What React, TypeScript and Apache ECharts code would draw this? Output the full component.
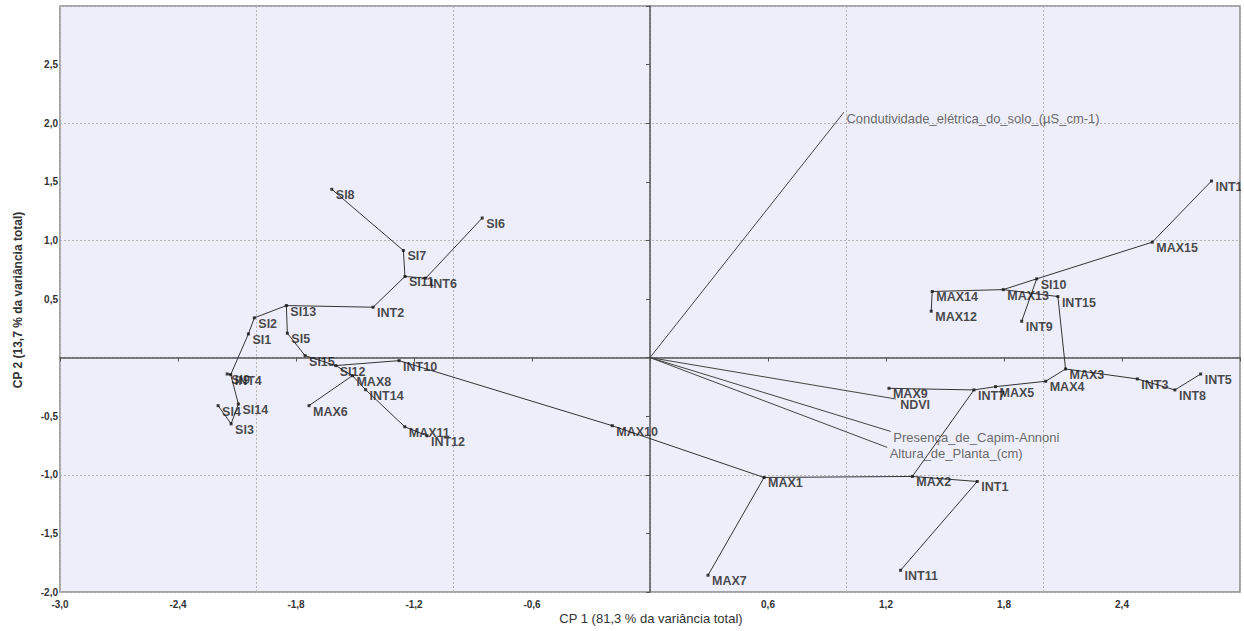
import React, { useEffect, useRef } from "react";
import * as echarts from "echarts";

// Scores of the observations on CP1 / CP2
const pointNames = [
  "SI1", "SI2", "SI3", "SI4", "SI5", "SI6", "SI7", "SI8", "SI9", "SI10", "SI11", "SI12", "SI13", "SI14", "SI15",
  "INT1", "INT2", "INT3", "INT4", "INT5", "INT6", "INT7", "INT8", "INT9", "INT10", "INT11", "INT12", "INT13", "INT14", "INT15",
  "MAX1", "MAX2", "MAX3", "MAX4", "MAX5", "MAX6", "MAX7", "MAX8", "MAX9", "MAX10", "MAX11", "MAX12", "MAX13", "MAX14", "MAX15",
];
const cp1 = [
  -2.042, -2.012, -2.13, -2.196, -1.844, -0.853, -1.254, -1.618, -2.15, 1.966, -1.246, -1.598, -1.849, -2.093, -1.754,
  1.664, -1.408, 2.478, -2.132, 2.8, -1.14, 1.647, 2.669, 1.89, -1.276, 1.274, -1.134, 2.855, -1.446, 2.074,
  0.58, 1.334, 2.113, 2.012, 1.757, -1.734, 0.295, -1.513, 1.215, -0.192, -1.247, 1.43, 1.796, 1.435, 2.554,
];
const cp2 = [
  0.202, 0.339, -0.565, -0.41, 0.208, 1.191, 0.914, 1.436, -0.14, 0.672, 0.692, -0.068, 0.444, -0.396, 0.017,
  -1.057, 0.43, -0.182, -0.145, -0.14, 0.678, -0.276, -0.276, 0.31, -0.026, -1.815, -0.667, 1.507, -0.274, 0.521,
  -1.023, -1.014, -0.097, -0.202, -0.248, -0.41, -1.857, -0.154, -0.262, -0.581, -0.59, 0.396, 0.58, 0.564, 0.985,
];

// Links drawn between observations
const edges: [string, string][] = [
  ["SI8", "SI7"], ["SI7", "SI11"], ["SI11", "INT6"], ["INT6", "SI6"], ["SI11", "INT2"], ["INT2", "SI13"],
  ["SI13", "SI2"], ["SI13", "SI5"], ["SI2", "SI1"], ["SI1", "INT4"], ["INT4", "SI9"], ["INT4", "SI14"],
  ["SI14", "SI3"], ["SI3", "SI4"], ["SI5", "SI15"], ["SI15", "SI12"], ["SI12", "INT10"], ["INT10", "MAX10"],
  ["SI12", "MAX8"], ["MAX6", "MAX8"], ["MAX8", "INT14"], ["INT14", "MAX11"], ["MAX11", "INT12"],
  ["MAX10", "MAX1"], ["MAX1", "MAX7"], ["MAX1", "MAX2"], ["MAX2", "INT1"], ["INT1", "INT11"], ["MAX2", "INT7"],
  ["INT7", "MAX9"], ["INT7", "MAX5"], ["MAX5", "MAX4"], ["MAX4", "MAX3"], ["MAX3", "INT3"], ["INT3", "INT8"],
  ["INT8", "INT5"], ["MAX3", "INT15"], ["INT15", "MAX13"], ["MAX13", "MAX14"], ["MAX14", "MAX12"],
  ["MAX13", "SI10"], ["SI10", "INT9"], ["SI10", "MAX15"], ["MAX15", "INT13"],
];

// Variable loadings (vectors from origin)
const vectorNames = [
  "Condutividade_elétrica_do_solo_(µS_cm-1)",
  "NDVI",
  "Presença_de_Capim-Annoni",
  "Altura_de_Planta_(cm)",
];
const vectorCp1 = [0.986, 1.249, 1.224, 1.206];
const vectorCp2 = [2.094, -0.353, -0.63, -0.766];

const xTitle = "CP 1 (81,3 % da variância total)";
const yTitle = "CP 2 (13,7 % da variância total)";

const fmt = (v: number, max: number) =>
  Math.abs(v) < 1e-9 || v > max - 0.01 ? "" : v.toFixed(1).replace(".", ",");

export default function App() {
  const ref = useRef<HTMLDivElement>(null);
  useEffect(() => {
    document.body.style.margin = "0";
    const chart = echarts.init(ref.current!, null, { renderer: "svg" });
    const idx = new Map(pointNames.map((n, i) => [n, i]));
    const edgeData = edges.map(([a, b]) => {
      const ia = idx.get(a)!;
      const ib = idx.get(b)!;
      return { coords: [[cp1[ia], cp2[ia]], [cp1[ib], cp2[ib]]] };
    });
    const vecLines = vectorNames.map((_, i) => ({ coords: [[0, 0], [vectorCp1[i], vectorCp2[i]]] }));
    const pointLabel = {
      show: true,
      formatter: "{b}",
      position: [5.5, 1],
      align: "left",
      verticalAlign: "top",
      fontFamily: "Liberation Sans, Arial, sans-serif",
      fontSize: 12.5,
      fontWeight: "bold",
      color: "#1a1a1a",
    };
    const option: any = {
      animation: false,
      backgroundColor: "#ffffff",
      grid: {
        left: 60,
        top: 6,
        right: 4,
        bottom: 39,
        show: true,
        backgroundColor: "#eeeefa",
        borderColor: "#8a8a8a",
        borderWidth: 1.5,
      },
      xAxis: [
        {
          type: "value",
          min: -3,
          max: 3,
          interval: 0.6,
          axisLine: { onZero: true, lineStyle: { color: "#555", width: 1.5 } },
          axisTick: { show: true, length: 4, lineStyle: { color: "#555" } },
          axisLabel: {
            margin: 7,
            fontSize: 10,
            fontWeight: "bold",
            color: "#333",
            fontFamily: "Liberation Sans, Arial, sans-serif",
            showMinLabel: true,
            showMaxLabel: true,
            formatter: (v: number) => fmt(v, 3),
          },
          splitLine: { show: false },
        },
        {
          type: "value",
          min: -3,
          max: 3,
          interval: 1,
          axisLine: { show: false },
          axisTick: { show: false },
          axisLabel: { show: false },
          splitLine: { show: true, lineStyle: { color: "#b4b4b4", type: [2, 2], width: 1 } },
        },
      ],
      yAxis: [
        {
          type: "value",
          min: -2,
          max: 3,
          interval: 0.5,
          axisLine: { onZero: true, lineStyle: { color: "#555", width: 1.5 } },
          axisTick: { show: true, length: 4, lineStyle: { color: "#555" } },
          axisLabel: {
            margin: 2,
            fontSize: 10,
            fontWeight: "bold",
            color: "#333",
            fontFamily: "Liberation Sans, Arial, sans-serif",
            showMinLabel: true,
            formatter: (v: number) => fmt(v, 3),
          },
          splitLine: { show: false },
        },
        {
          type: "value",
          min: -2,
          max: 3,
          interval: 1,
          axisLine: { show: false },
          axisTick: { show: false },
          axisLabel: { show: false },
          splitLine: { show: true, lineStyle: { color: "#b4b4b4", type: [2, 2], width: 1 } },
        },
      ],
      series: [
        {
          type: "lines",
          coordinateSystem: "cartesian2d",
          xAxisIndex: 0,
          yAxisIndex: 0,
          data: edgeData,
          lineStyle: { color: "#333", width: 1, opacity: 1 },
          z: 3,
        },
        {
          type: "lines",
          coordinateSystem: "cartesian2d",
          xAxisIndex: 0,
          yAxisIndex: 0,
          data: vecLines,
          lineStyle: { color: "#444", width: 1, opacity: 1 },
          z: 3,
        },
        {
          type: "scatter",
          xAxisIndex: 0,
          yAxisIndex: 0,
          symbol: "rect",
          symbolSize: 3,
          itemStyle: { color: "#111" },
          label: pointLabel,
          data: pointNames.map((n, i) => ({ name: n, value: [cp1[i], cp2[i]] })),
          z: 4,
        },
        {
          type: "scatter",
          xAxisIndex: 0,
          yAxisIndex: 0,
          symbol: "circle",
          symbolSize: 1,
          itemStyle: { color: "rgba(0,0,0,0)" },
          label: {
            show: true,
            formatter: "{b}",
            position: [3, 0],
            align: "left",
            verticalAlign: "top",
            fontFamily: "Liberation Sans, Arial, sans-serif",
            fontSize: 13,
            color: "#444",
          },
          data: vectorNames.map((n, i) => ({
            name: n,
            value: [vectorCp1[i], vectorCp2[i]],
            label:
              n === "NDVI"
                ? { fontSize: 12.5, fontWeight: "bold", color: "#1a1a1a", position: [5, 0] }
                : undefined,
          })),
          z: 4,
        },
      ],
      graphic: [
        {
          type: "rect",
          left: 1241,
          top: 0,
          shape: { width: 3, height: 631 },
          style: { fill: "#ffffff" },
          z: 100,
        },
        {
          type: "text",
          x: 651,
          y: 618,
          style: {
            text: xTitle,
            textAlign: "center",
            textVerticalAlign: "middle",
            font: "13px Liberation Sans, Arial, sans-serif",
            fill: "#333",
          },
        },
        {
          type: "text",
          x: 18,
          y: 300,
          rotation: Math.PI / 2,
          style: {
            text: yTitle,
            textAlign: "center",
            textVerticalAlign: "middle",
            font: "bold 12px Liberation Sans, Arial, sans-serif",
            fill: "#333",
          },
        },
      ],
    };
    chart.setOption(option);
    return () => chart.dispose();
  }, []);
  return <div ref={ref} style={{ width: 1244, height: 631 }} />;
}
